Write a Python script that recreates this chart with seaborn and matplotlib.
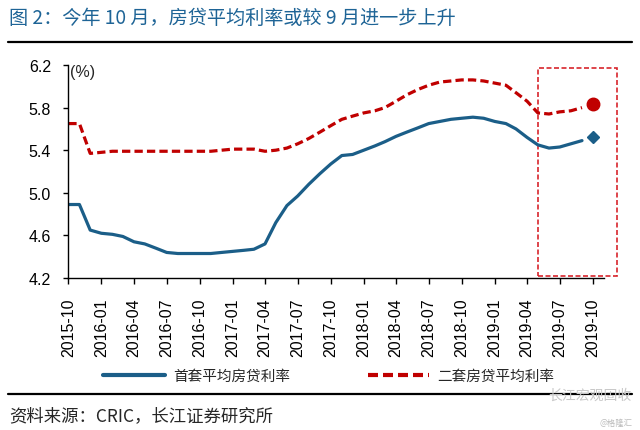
import pandas as pd
import matplotlib
matplotlib.use("Agg")
import matplotlib.pyplot as plt
import matplotlib.dates as mdates
from matplotlib.lines import Line2D
from matplotlib.patches import Rectangle
import seaborn as sns

# ---- data ----
months = pd.date_range("2015-10-01", "2019-09-01", freq="MS")
first_home = [4.89, 4.89, 4.65,
              4.62, 4.61, 4.59, 4.54, 4.52, 4.48, 4.44, 4.43, 4.43, 4.43, 4.43, 4.44,
              4.45, 4.46, 4.47, 4.52, 4.72, 4.88, 4.97, 5.08, 5.18, 5.27, 5.35, 5.36,
              5.40, 5.44, 5.48, 5.53, 5.57, 5.61, 5.65, 5.67, 5.69, 5.70, 5.71, 5.70,
              5.67, 5.65, 5.60, 5.52, 5.45, 5.42, 5.43, 5.46, 5.49]
second_home = [5.65, 5.65, 5.37,
               5.38, 5.39, 5.39, 5.39, 5.39, 5.39, 5.39, 5.39, 5.39, 5.39, 5.39, 5.40,
               5.41, 5.41, 5.41, 5.39, 5.40, 5.42, 5.46, 5.51, 5.57, 5.63, 5.69, 5.72,
               5.75, 5.77, 5.80, 5.86, 5.92, 5.97, 6.01, 6.04, 6.05, 6.06, 6.06, 6.05,
               6.03, 6.01, 5.94, 5.86, 5.75, 5.74, 5.76, 5.77, 5.80]
latest_month = pd.Timestamp("2019-10-01")
latest_first = 5.52
latest_second = 5.83

tick_dates = pd.date_range("2015-10-01", "2019-10-01", freq="3MS")
y_ticks = [4.2, 4.6, 5.0, 5.4, 5.8, 6.2]

BLUE = "#1B5E88"
RED = "#C00000"
BOX_RED = "#D8252C"
TITLE_BLUE = "#1E6496"

df = pd.DataFrame({"month": months, "first": first_home, "second": second_home})

sns.set_style("white")
plt.rcParams["font.family"] = ["Liberation Sans", "Noto Sans CJK SC", "DejaVu Sans"]
cjk = ["Noto Sans CJK SC", "DejaVu Sans"]

fig = plt.figure(figsize=(6.4, 4.31), dpi=100)
W, H = 640, 431
ax = fig.add_axes([68.3 / W, 1 - 279 / H, (603.9 - 68.3) / W, (279 - 66) / H])

sns.lineplot(data=df, x="month", y="first", color=BLUE, linewidth=2.3, ax=ax)
sns.lineplot(data=df, x="month", y="second", color=RED, linewidth=2.3,
             ax=ax, linestyle=(0, (2.6, 1.3)))
ax.plot([latest_month], [latest_first], marker="D", markersize=6, color=BLUE,
        linestyle="none", clip_on=False)
ax.plot([latest_month], [latest_second], marker="o", markersize=9, color=RED,
        linestyle="none", clip_on=False)

ax.set_xlim(pd.Timestamp("2015-10-01"), pd.Timestamp("2019-11-01"))
ax.set_ylim(4.2, 6.2)
ax.set_xticks(tick_dates)
ax.xaxis.set_major_formatter(mdates.DateFormatter("%Y-%m"))
ax.set_yticks(y_ticks)
ax.set_yticklabels([f"{v:.1f}" for v in y_ticks])
ax.tick_params(axis="x", rotation=90, labelsize=11.5, length=4, width=1,
               direction="out", pad=10, colors="black")
ax.tick_params(axis="y", labelsize=11.5, length=3.5, width=1,
               direction="out", pad=9, colors="black")
ax.tick_params(axis="both", bottom=True, left=True)
ax.set_xlabel("")
ax.set_ylabel("")
for s in ["top", "right"]:
    ax.spines[s].set_visible(False)
for s in ["left", "bottom"]:
    ax.spines[s].set_color("black")
    ax.spines[s].set_linewidth(1)

# highlight box around the latest months
x0 = mdates.date2num(pd.Timestamp("2019-05-01"))
x1 = mdates.date2num(pd.Timestamp("2019-12-07"))
ax.add_patch(Rectangle((x0, 4.22), x1 - x0, 6.17 - 4.22, fill=False,
                       edgecolor=BOX_RED, linewidth=1.2, linestyle=(0, (3, 1.5)),
                       clip_on=False))

fig.text(70 / W, 1 - 73 / H, "(%)", fontsize=11.5, ha="left", va="center")

# title + rules
fig.text(9 / W, 1 - 18 / H, "图 2：今年 10 月，房贷平均利率或较 9 月进一步上升",
         fontsize=13.8, color=TITLE_BLUE, ha="left", va="center", family=cjk)
fig.add_artist(Line2D([8 / W, 632 / W], [1 - 43 / H, 1 - 43 / H],
                      color="black", linewidth=1.6))
fig.add_artist(Line2D([8 / W, 632 / W], [1 - 395 / H, 1 - 395 / H],
                      color="black", linewidth=1.6))

# legend
handles = [Line2D([], [], color=BLUE, linewidth=3),
           Line2D([], [], color=RED, linewidth=3, linestyle=(0, (2.4, 1.2)))]
leg = fig.legend(handles, ["首套平均房贷利率", "二套房贷平均利率"],
                 loc="center", bbox_to_anchor=(329 / W, 1 - 377 / H), ncol=2,
                 frameon=False, handlelength=4.2, handletextpad=0.6,
                 columnspacing=5.3, prop={"family": cjk, "size": 10.5})

fig.text(9 / W, 1 - 416 / H, "资料来源：CRIC，长江证券研究所",
         fontsize=12.5, ha="left", va="center", family=cjk)

# watermark
fig.text(548 / W, 1 - 396 / H, "长江宏观固收", fontsize=10, color="#C8C8C8",
         ha="left", va="center", family=cjk)
fig.text(632 / W, 1 - 423 / H, "@格隆汇", fontsize=6, color="#BBBBBB",
         ha="right", va="center", family=cjk)

fig.savefig("out.png", dpi=100)
